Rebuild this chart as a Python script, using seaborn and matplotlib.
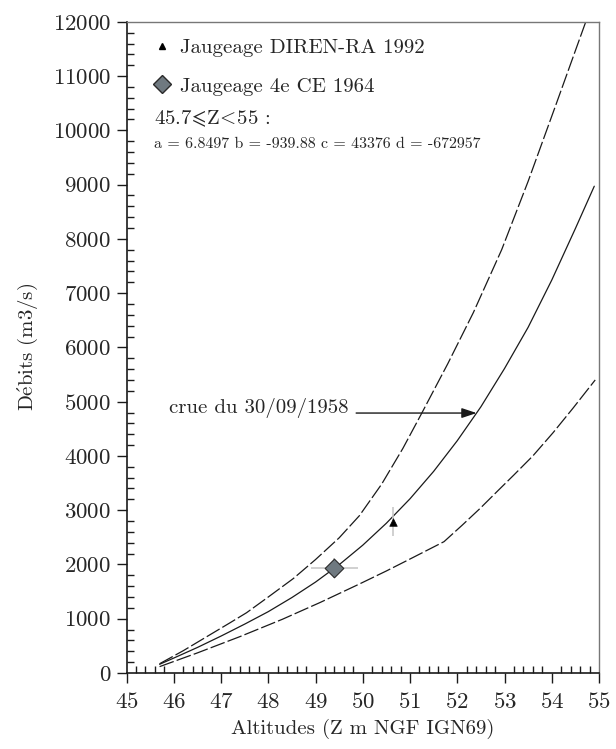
import matplotlib
matplotlib.use("Agg")
import matplotlib.pyplot as plt
import seaborn as sns
import pandas as pd
from matplotlib.ticker import MultipleLocator
from matplotlib.lines import Line2D

# ---- data ----
z_mid = [45.7, 46.0, 46.5, 47.0, 47.5, 48.0, 48.5, 49.0, 49.5, 50.0,
         50.5, 51.0, 51.5, 52.0, 52.5, 53.0, 53.5, 54.0, 54.5, 54.9]
q_mid = [160, 275, 470, 680, 900, 1130, 1390, 1675, 1995, 2355,
         2760, 3210, 3715, 4280, 4905, 5610, 6370, 7240, 8190, 8970]

z_up = [45.7, 46.2, 46.7, 47.2, 47.54, 48.0, 48.53, 49.0, 49.5, 49.93,
        50.4, 50.85, 51.25, 51.8, 52.34, 52.94, 53.5, 54.1, 54.72]
q_up = [170, 410, 670, 930, 1110, 1400, 1740, 2090, 2490, 2900,
        3480, 4140, 4790, 5700, 6640, 7800, 9060, 10500, 12000]

z_low = [45.7, 46.5, 47.4, 48.3, 49.1, 49.93, 50.5, 51.0, 51.72,
         52.1, 52.48, 52.85, 53.2, 53.6, 54.03, 54.45, 54.92]
q_low = [117, 370, 670, 990, 1300, 1640, 1880, 2100, 2420,
         2720, 3030, 3350, 3650, 4000, 4430, 4880, 5400]

diren_z = [50.65]
diren_q = [2790]
diren_qerr = [275]

ce_z = [49.4]
ce_q = [1930]
ce_zerr = [0.49]
ce_qerr = [185]

arrow_z = [49.86, 52.41]
arrow_q = 4790

x_ticks = list(range(45, 56))
y_ticks = list(range(0, 12001, 1000))

sns.set_style("ticks")
plt.rcParams['font.family'] = ['cmr10', 'DejaVu Serif']
plt.rcParams['mathtext.fontset'] = 'cm'
plt.rcParams['axes.formatter.use_mathtext'] = True

fig = plt.figure(figsize=(6.16, 7.49), dpi=100)
ax = fig.add_axes([0.2054, 0.1015, 0.767, 0.8694])

df_mid = pd.DataFrame({"z": z_mid, "q": q_mid})
df_up = pd.DataFrame({"z": z_up, "q": q_up})
df_low = pd.DataFrame({"z": z_low, "q": q_low})

sns.lineplot(data=df_mid, x="z", y="q", ax=ax, color="#1a1a1a", lw=0.9, sort=False)
l_up = sns.lineplot(data=df_up, x="z", y="q", ax=ax, color="#1a1a1a", lw=0.9, sort=False).lines[-1]
l_up.set_dashes((12, 2.5))
l_low = sns.lineplot(data=df_low, x="z", y="q", ax=ax, color="#1a1a1a", lw=0.9, sort=False).lines[-1]
l_low.set_dashes((12, 2.5))

# error bars
ax.errorbar(ce_z, ce_q, xerr=ce_zerr, yerr=ce_qerr, fmt="none", ecolor="#c8c8c8", elinewidth=1.2, capsize=0, zorder=3)
ax.errorbar(diren_z, diren_q, yerr=diren_qerr, fmt="none", ecolor="#c8c8c8", elinewidth=1.2, capsize=0, zorder=3)

sns.scatterplot(x=ce_z, y=ce_q, ax=ax, marker="D", s=90, color="#6f7980", edgecolor="#2a2a2a", linewidth=0.8, zorder=5)
sns.scatterplot(x=diren_z, y=diren_q, ax=ax, marker="^", s=30, color="black", edgecolor="black", zorder=5)

# arrow annotation
ax.annotate("", xy=(arrow_z[1], arrow_q), xytext=(arrow_z[0], arrow_q),
            arrowprops=dict(arrowstyle="-|>,head_length=0.9,head_width=0.3", color="#1a1a1a", lw=1.0, shrinkA=0, shrinkB=0))
ax.text(arrow_z[0] - 0.17, arrow_q + 90, "crue du 30/09/1958", ha="right", va="center", fontsize=15)

# legend
handles = [Line2D([], [], ls="none", marker="^", color="black", markersize=5),
           Line2D([], [], ls="none", marker="D", markerfacecolor="#6f7980", markeredgecolor="#2a2a2a", markersize=9)]
ax.legend(handles, ["Jaugeage DIREN-RA 1992", "Jaugeage 4e CE 1964"], loc="upper left",
          bbox_to_anchor=(0.052, 0.974), frameon=False, fontsize=15, handlelength=1.0,
          handletextpad=0.4, labelspacing=0.95, borderpad=0, borderaxespad=0)
ax.text(0.058, 0.851, r"$45.7\!\leqslant\!\mathrm{Z}\!<\!55$ :", transform=ax.transAxes, fontsize=15, va="center", ha="left")
ax.text(0.058, 0.812, "a = 6.8497 b = -939.88 c = 43376 d = -672957", transform=ax.transAxes, fontsize=11.5, va="center", ha="left")

ax.set_xlim(45, 55)
ax.set_ylim(0, 12000)
ax.set_xticks(x_ticks)
ax.set_yticks(y_ticks)
ax.xaxis.set_minor_locator(MultipleLocator(0.2))
ax.yaxis.set_minor_locator(MultipleLocator(200))
ax.tick_params(axis="both", which="major", direction="out", length=7, width=1.0, color="#1a1a1a", labelsize=16.5, pad=4)
ax.tick_params(axis="both", which="minor", direction="in", length=5, width=1.0, color="#1a1a1a")
ax.tick_params(axis="x", pad=7)

for s in ["top", "right"]:
    ax.spines[s].set_visible(True)
    ax.spines[s].set_color("#777777")
    ax.spines[s].set_linewidth(1.0)
for s in ["left", "bottom"]:
    ax.spines[s].set_color("#1a1a1a")
    ax.spines[s].set_linewidth(1.2)

ax.set_xlabel("Altitudes (Z m NGF IGN69)", fontsize=15, labelpad=5)
ax.set_ylabel(r"D$\mathrm{\acute{e}}$bits (m3/s)", fontsize=15, labelpad=9)

fig.savefig("out.png", dpi=100)
